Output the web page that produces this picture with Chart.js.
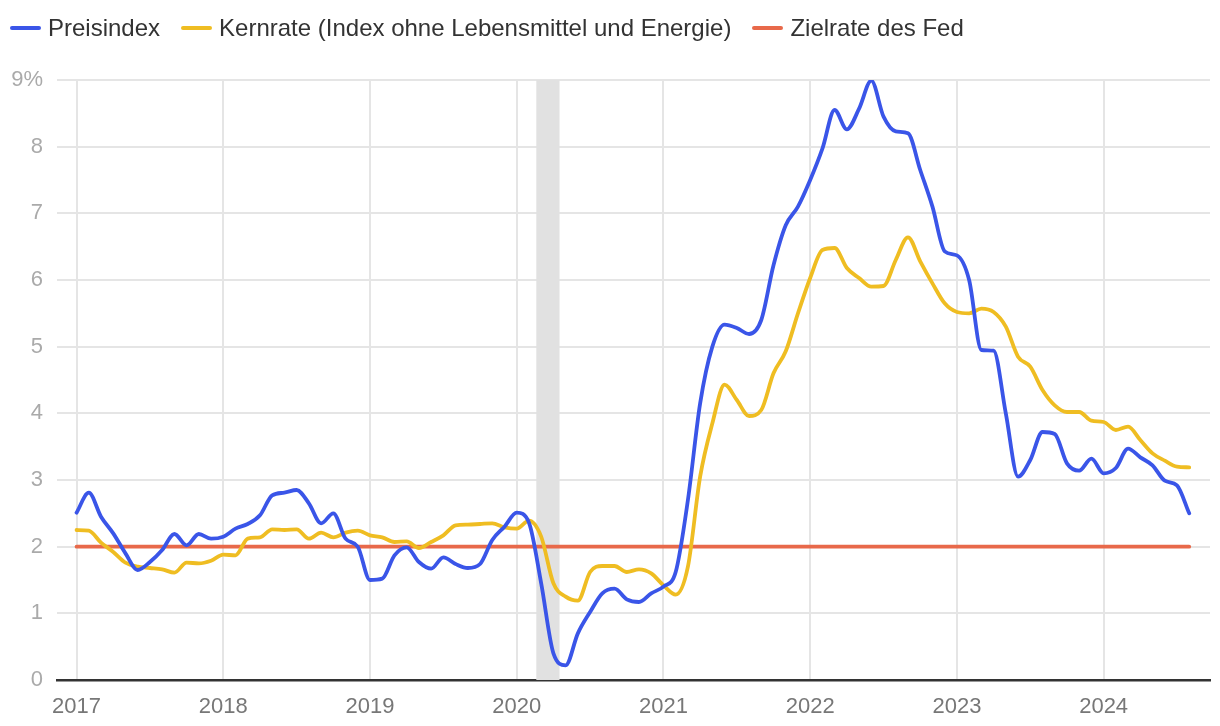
<!DOCTYPE html>
<html lang="de">
<head>
<meta charset="utf-8">
<script src="https://cdn.jsdelivr.net/npm/chart.js@4.4.1/dist/chart.umd.min.js"></script>
<style>
    body { margin: 0; background: #fff; font-family: "Liberation Sans", Arial, Helvetica, sans-serif; }
    #wrap { position: relative; width: 1220px; height: 726px; }
    #legend { position: absolute; left: 10px; top: 14px; display: flex; align-items: center; font-size: 24px; color: #333; }
    .item { display: flex; align-items: center; margin-right: 21px; }
    .swatch { width: 31px; height: 4px; border-radius: 2px; margin-right: 7px; }
</style>
</head>
<body>
<div id="wrap">
    <div id="legend"></div>
    <canvas id="cpiChart" width="1220" height="726"></canvas>
</div>
<script>
// Monthly values, Jan 2017 - Aug 2024 (year-over-year change in %)
const startYear = 2017;
const years = ['2017', '2018', '2019', '2020', '2021', '2022', '2023', '2024'];

const preisindex = [
    2.51, 2.81, 2.45, 2.2, 1.9, 1.65, 1.77, 1.95, 2.19, 2.02, 2.19, 2.12,
    2.15, 2.27, 2.34, 2.47, 2.77, 2.81, 2.85, 2.65, 2.35, 2.5, 2.12, 2.0,
    1.5, 1.52, 1.87, 1.99, 1.77, 1.67, 1.84, 1.74, 1.68, 1.74, 2.1, 2.3,
    2.51, 2.36, 1.45, 0.4, 0.22, 0.7, 1.02, 1.3, 1.37, 1.21, 1.17, 1.3,
    1.4, 1.62, 2.7, 4.15, 5.0, 5.33, 5.28, 5.19, 5.4, 6.22, 6.82, 7.1,
    7.5, 7.97, 8.55, 8.26, 8.57, 8.99, 8.45, 8.23, 8.2, 7.65, 7.1, 6.43,
    6.37, 6.0, 4.95, 4.94, 4.0, 3.05, 3.3, 3.72, 3.69, 3.25, 3.14, 3.32,
    3.1, 3.18, 3.47, 3.34, 3.22, 2.99, 2.92, 2.5
];

const kernrate = [
    2.25, 2.24, 2.06, 1.92, 1.76, 1.7, 1.68, 1.66, 1.61, 1.76, 1.75, 1.79,
    1.88, 1.87, 2.12, 2.14, 2.26, 2.25, 2.26, 2.12, 2.21, 2.14, 2.21, 2.24,
    2.17, 2.14, 2.07, 2.08, 1.98, 2.07, 2.17, 2.32, 2.33, 2.34, 2.35, 2.29,
    2.27, 2.39, 2.15, 1.45, 1.25, 1.19, 1.62, 1.71, 1.71, 1.62, 1.66, 1.6,
    1.42, 1.28, 1.7, 3.05, 3.85, 4.43, 4.2, 3.96, 4.05, 4.6, 4.93, 5.5,
    6.03, 6.45, 6.48, 6.18, 6.03, 5.9, 5.91, 6.3, 6.64, 6.28, 5.95, 5.65,
    5.52, 5.5, 5.57, 5.52, 5.3, 4.85, 4.7, 4.35, 4.12, 4.02, 4.02, 3.89,
    3.87, 3.75, 3.8, 3.6, 3.4, 3.29, 3.2, 3.19
];

const fedZiel = 2;
// recession Feb-Apr 2020, in months since Jan 2017
const rezession = [37.6, 39.5];

const seriesNames = ['Preisindex', 'Kernrate (Index ohne Lebensmittel und Energie)', 'Zielrate des Fed'];
const seriesColors = ['#3a55e8', '#efbd22', '#e8694a'];

function toPoints(values) {
    return values.map((v, i) => ({ x: i, y: v }));
}

// legend
const legend = document.getElementById('legend');
seriesNames.forEach((name, i) => {
    const item = document.createElement('div');
    item.className = 'item';
    item.innerHTML = '<span class="swatch" style="background:' + seriesColors[i] + '"></span><span>' + name + '</span>';
    legend.appendChild(item);
});

// grey band for the recession
const recessionBand = {
    id: 'recessionBand',
    beforeDatasetsDraw(chart) {
        const { ctx, chartArea, scales } = chart;
        const x1 = scales.x.getPixelForValue(rezession[0]);
        const x2 = scales.x.getPixelForValue(rezession[1]);
        ctx.save();
        ctx.fillStyle = '#e1e1e1';
        ctx.fillRect(x1, chartArea.top, x2 - x1, chartArea.bottom - chartArea.top);
        ctx.restore();
    }
};

const lastIndex = preisindex.length - 1;
const lineStyle = { borderWidth: 3.8, pointRadius: 0, fill: false, cubicInterpolationMode: 'monotone', borderCapStyle: 'round', borderJoinStyle: 'round' };

const ctx = document.getElementById('cpiChart').getContext('2d');
new Chart(ctx, {
    type: 'line',
    data: {
        datasets: [
            Object.assign({ label: seriesNames[0], data: toPoints(preisindex), borderColor: seriesColors[0] }, lineStyle),
            Object.assign({ label: seriesNames[1], data: toPoints(kernrate), borderColor: seriesColors[1] }, lineStyle),
            Object.assign({ label: seriesNames[2], data: [{ x: 0, y: fedZiel }, { x: lastIndex, y: fedZiel }], borderColor: seriesColors[2] }, lineStyle)
        ]
    },
    plugins: [recessionBand],
    options: {
        responsive: false,
        animation: false,
        layout: { padding: { top: 80, right: 10, left: 0, bottom: 0 } },
        plugins: { legend: { display: false }, tooltip: { enabled: false } },
        scales: {
            x: {
                type: 'linear',
                min: -1.6,
                max: 92.7,
                afterBuildTicks: scale => {
                    scale.ticks = years.map((y, i) => ({ value: i * 12 }));
                },
                afterFit: scale => { scale.height = 46; },
                ticks: {
                    padding: 14,
                    color: '#777',
                    font: { family: '"Liberation Sans", Arial, sans-serif', size: 22 },
                    callback: value => String(startYear + value / 12)
                },
                grid: { color: '#e5e5e5', lineWidth: 2, drawTicks: false },
                border: { color: '#333', width: 2.5 }
            },
            y: {
                min: 0,
                max: 9,
                afterFit: scale => { scale.width = 57; },
                ticks: {
                    stepSize: 1,
                    padding: 14,
                    color: '#aaa',
                    font: { family: '"Liberation Sans", Arial, sans-serif', size: 22 },
                    callback: value => value === 9 ? value + '%' : value
                },
                grid: { color: '#e5e5e5', lineWidth: 2, drawTicks: false },
                border: { display: false }
            }
        }
    }
});
</script>
</body>
</html>
